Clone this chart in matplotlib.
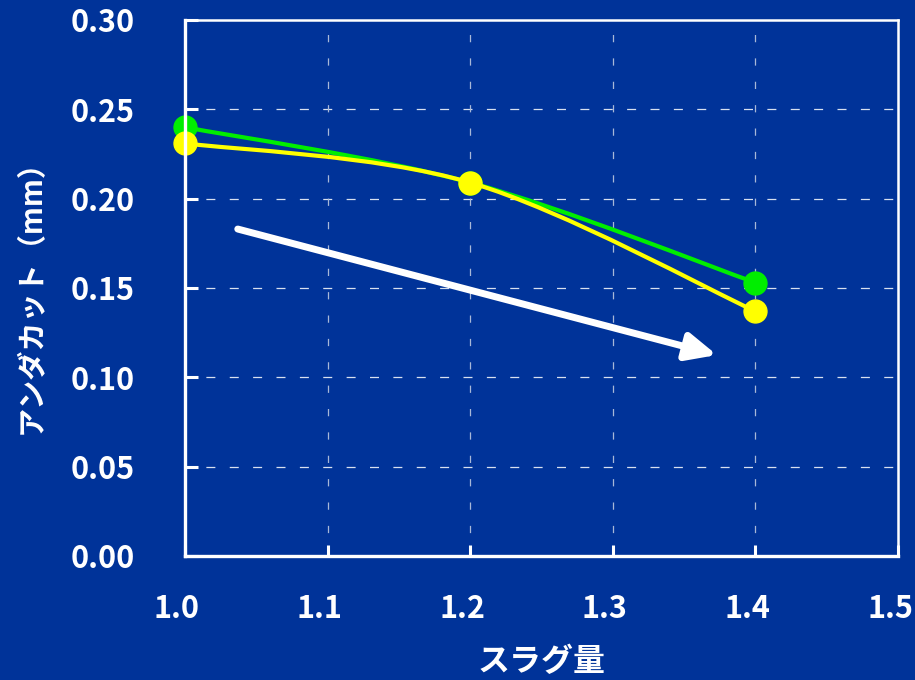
import numpy as np
import matplotlib
matplotlib.use("Agg")
import matplotlib.pyplot as plt
import matplotlib.transforms as mtransforms
from matplotlib.path import Path
from matplotlib.patches import PathPatch

plt.rcParams['font.family'] = ['Noto Sans CJK JP', 'DejaVu Sans']

# Data
slag = [1.0, 1.2, 1.4]
undercut_green = [0.240, 0.209, 0.153]
undercut_yellow = [0.231, 0.209, 0.137]
xticks = [1.0, 1.1, 1.2, 1.3, 1.4, 1.5]
yticks = [0.00, 0.05, 0.10, 0.15, 0.20, 0.25, 0.30]
trend_start = (1.037, 0.183)
trend_end = (1.373, 0.1125)

BG = '#003399'
WHITE = 'white'


def smooth_path(xs, ys):
    """Cubic Bezier path through the points (spreadsheet-style smoothed line)."""
    pts = np.column_stack([xs, ys]).astype(float)
    ext = np.vstack([pts[0], pts, pts[-1]])
    verts = [tuple(pts[0])]
    codes = [Path.MOVETO]
    for i in range(len(pts) - 1):
        p0, p1, p2, p3 = ext[i], ext[i + 1], ext[i + 2], ext[i + 3]
        c1 = p1 + (p2 - p0) / 6.0
        c2 = p2 - (p3 - p1) / 6.0
        verts += [tuple(c1), tuple(c2), tuple(p2)]
        codes += [Path.CURVE4] * 3
    return Path(verts, codes)


fig = plt.figure(figsize=(9.15, 6.8), dpi=100, facecolor=BG)
ax = fig.add_axes([185 / 915, 1 - 556 / 680, (898 - 185) / 915, (556 - 20) / 680])
ax.set_facecolor(BG)

ax.set_xlim(1.0, 1.5)
ax.set_ylim(0.0, 0.30)

# Grid
for y in yticks[1:-1]:
    ax.axhline(y, color=WHITE, alpha=0.85, lw=0.9, ls=(2, (7.2, 11.5)), zorder=1)
for x in xticks[1:-1]:
    ax.axvline(x, color='#a8b8d8', lw=0.9, ls=(0, (5.8, 12.9)), zorder=1)

# Series lines (smoothed) and markers
for vals, col, z in [(undercut_green, '#00ee00', 3), (undercut_yellow, '#ffff00', 4)]:
    ax.add_patch(PathPatch(smooth_path(slag, vals), fill=False, edgecolor=col,
                           lw=3.0, zorder=z, capstyle='round', joinstyle='round'))
    ax.plot(slag, vals, ls='none', marker='o', ms=16.5, color=col, mec=col,
            zorder=z + 0.5, clip_on=False)

# Trend arrow
ax.annotate('', xy=trend_end, xytext=trend_start,
            arrowprops=dict(arrowstyle='-|>,head_length=1.0,head_width=0.46',
                            mutation_scale=18, lw=5, color=WHITE,
                            shrinkA=0, shrinkB=0), zorder=5)

# Spines
for side, lw in [('left', 2.4), ('bottom', 2.4), ('top', 1.8), ('right', 1.8)]:
    ax.spines[side].set_color(WHITE)
    ax.spines[side].set_linewidth(lw)
    ax.spines[side].set_zorder(6)

ax.set_xticks(xticks)
ax.set_yticks(yticks)
ax.set_xticklabels([f'{v:.1f}' for v in xticks])
ax.set_yticklabels([f'{v:.2f}' for v in yticks])
ax.tick_params(axis='y', direction='in', length=9, width=2.2, color=WHITE,
               labelcolor=WHITE, labelsize=22, pad=36)
ax.tick_params(axis='x', direction='in', length=8, width=2.2, color=WHITE,
               labelcolor=WHITE, labelsize=22, pad=27)
shift_left = mtransforms.ScaledTranslation(-8 / 100, 0, fig.dpi_scale_trans)
for lab in ax.get_xticklabels():
    lab.set_fontweight('bold')
    lab.set_transform(lab.get_transform() + shift_left)
for lab in ax.get_yticklabels():
    lab.set_fontweight('bold')

ax.set_xlabel('スラグ量', color=WHITE, fontsize=23, fontweight='bold', va='center')
ax.xaxis.set_label_coords(0.5, (556 - 662) / 536)
ax.set_ylabel('アンダカット（mm）', color=WHITE, fontsize=21, fontweight='bold', va='center')
ax.yaxis.set_label_coords((31 - 185) / 713, (556 - 290) / 536)

fig.savefig('out.png', dpi=100, facecolor=BG)
